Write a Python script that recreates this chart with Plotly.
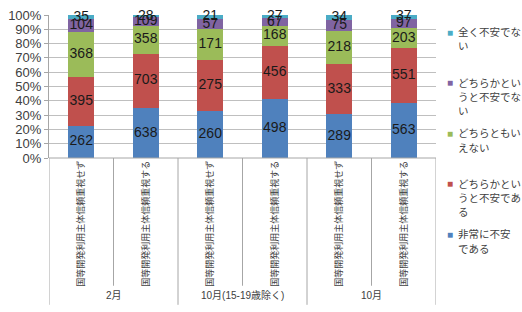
import plotly.graph_objects as go
import numpy as np

bar_labels = ["国等開発利用主体信頼重視せず", "国等開発利用主体信頼重視する"] * 3
groups = ["2月", "10月(15-19歳除く)", "10月"]

series_names = ["非常に不安である", "どちらかというと不安である", "どちらともいえない",
                "どちらかというと不安でない", "全く不安でない"]
legend_lines = [["非常に不安", "である"],
                ["どちらかとい", "うと不安であ", "る"],
                ["どちらともい", "えない"],
                ["どちらかとい", "うと不安でな", "い"],
                ["全く不安でな", "い"]]
colors = ["#4F81BD", "#C0504D", "#9BBB59", "#8064A2", "#4BACC6"]

very_anxious = [262, 638, 260, 498, 289, 563]
somewhat_anxious = [395, 703, 275, 456, 333, 551]
neutral = [368, 358, 171, 168, 218, 203]
somewhat_not = [104, 109, 57, 67, 75, 97]
not_at_all = [35, 28, 21, 27, 34, 37]
values = [very_anxious, somewhat_anxious, neutral, somewhat_not, not_at_all]

FONT = "Liberation Sans, Noto Sans CJK JP, sans-serif"
W, H = 522, 312
L, R, T, B = 47.6, 436, 8, 158

x = list(range(len(bar_labels)))
arr = np.array(values, dtype=float)
pct = arr / arr.sum(axis=0) * 100
top = np.cumsum(pct, axis=0)
mid = top - pct / 2

fig = go.Figure()
for name, vals, c in zip(series_names, values, colors):
    fig.add_trace(go.Bar(
        x=x, y=vals, name=name, marker=dict(color=c, line=dict(width=0)),
        showlegend=False, hoverinfo="skip",
    ))
for k, vals in enumerate(values):
    fig.add_trace(go.Scatter(
        x=x, y=mid[k], mode="text", text=[str(v) for v in vals],
        textposition="middle center", cliponaxis=False,
        textfont=dict(family=FONT, size=14, color="#1a1a1a"),
        showlegend=False, hoverinfo="skip",
    ))

shapes = []
for xv in [-0.5, 1.5, 3.5, 5.5]:
    shapes.append(dict(type="line", xref="x", yref="paper", x0=xv, x1=xv,
                       y0=0, y1=-(H - B) / (B - T), line=dict(color="#a6a6a6", width=1)))
for xv in [0.5, 2.5, 4.5]:
    shapes.append(dict(type="line", xref="x", yref="paper", x0=xv, x1=xv,
                       y0=0, y1=-(292 - B) / (B - T), line=dict(color="#a6a6a6", width=1)))
shapes.append(dict(type="line", xref="paper", yref="paper", x0=0, x1=1, y0=0, y1=0,
                   line=dict(color="#a6a6a6", width=1)))

annotations = []
for i, g in enumerate(groups):
    annotations.append(dict(x=2 * i + 0.5, xref="x", y=-(302 - B) / (B - T), yref="paper",
                            text=g, showarrow=False, xanchor="center", yanchor="middle",
                            font=dict(family=FONT, size=10, color="#404040")))

def px2paper(px, py):
    return (px - L) / (R - L), (B - py) / (B - T)

starts = [26, 79, 132, 185, 238]
order = list(range(len(series_names)))[::-1]
for start, si in zip(starts, order):
    mx, my = px2paper(450, start)
    annotations.append(dict(x=mx, y=my, xref="paper", yref="paper", text="■", showarrow=False,
                            xanchor="center", yanchor="middle",
                            font=dict(family=FONT, size=10, color=colors[si])))
    for j, line in enumerate(legend_lines[si]):
        lx, ly = px2paper(456, start + 15 * j)
        annotations.append(dict(x=lx, y=ly, xref="paper", yref="paper", text=line,
                                showarrow=False, xanchor="left", yanchor="middle",
                                font=dict(family=FONT, size=10.5, color="#404040")))

fig.update_layout(
    width=W, height=H,
    margin=dict(l=L, r=W - R, t=T, b=H - B, pad=0),
    barmode="stack", barnorm="percent", bargap=0.6,
    plot_bgcolor="white", paper_bgcolor="white",
    shapes=shapes, annotations=annotations,
    font=dict(family=FONT),
)
fig.update_xaxes(range=[-0.5, 5.5], tickmode="array", tickvals=x, ticktext=bar_labels,
                 tickangle=-90, tickfont=dict(family=FONT, size=9, color="#404040"),
                 showgrid=False, zeroline=False, showline=False, ticks="")
fig.update_yaxes(range=[0, 100], dtick=10, ticksuffix="%", showgrid=True,
                 gridcolor="#bfbfbf", gridwidth=1, zeroline=False,
                 showline=True, linecolor="#a6a6a6", ticks="outside", ticklen=4,
                 tickcolor="#a6a6a6",
                 tickfont=dict(family=FONT, size=13, color="#404040"))

fig.write_html("out.html")
